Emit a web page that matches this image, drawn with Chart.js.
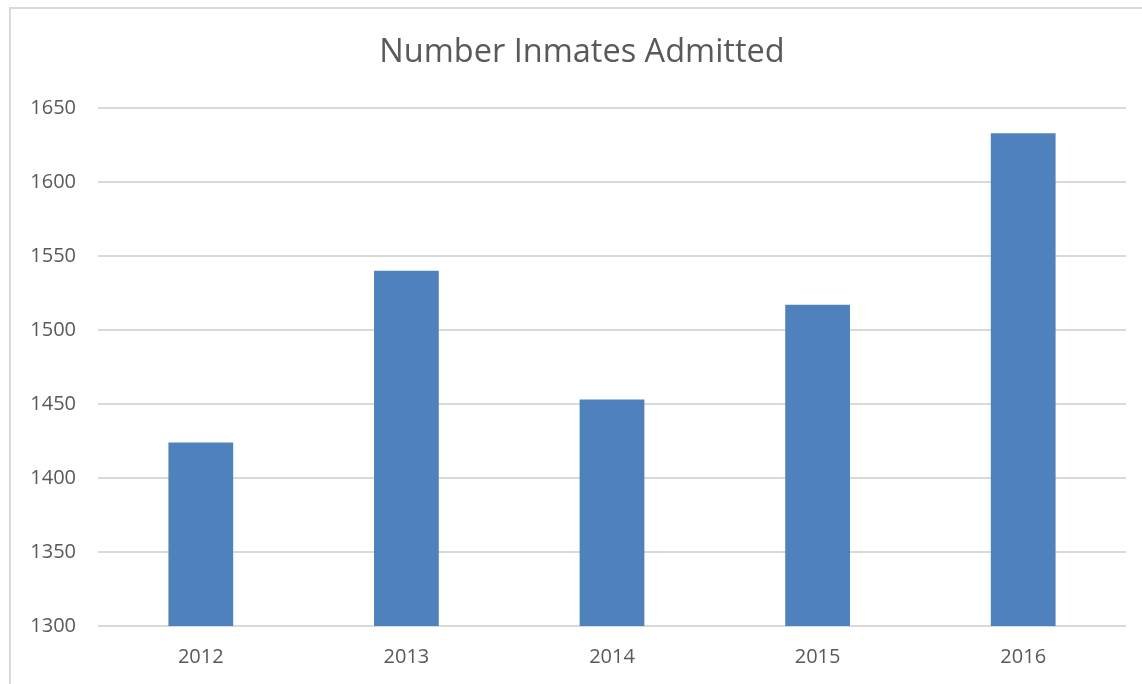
<!DOCTYPE html>
<html lang="en">
<head>
  <meta charset="UTF-8">
  <title>Number Inmates Admitted</title>
  <script src="https://cdn.jsdelivr.net/npm/chart.js"></script>
  <style>
    html, body { margin: 0; padding: 0; background: #fff; }
    #wrap { position: relative; width: 1142px; height: 684px; overflow: hidden; }
    #frame { position: absolute; left: 9px; top: 7px; right: -4px; bottom: -4px; border: 2px solid #d9d9d9; }
    #grafico { position: absolute; left: 0; top: 0; }
  </style>
</head>
<body>
  <div id="wrap">
    <div id="frame"></div>
    <canvas id="grafico" width="1142" height="684"></canvas>
  </div>

  <script>
    const years    = ['2012', '2013', '2014', '2015', '2016'];
    const admitted = [1424, 1540, 1453, 1517, 1633];
    const yMin = 1300, yMax = 1650, yStep = 50;

    const txtColor  = '#595959';
    const gridColor = '#d9d9d9';

    // desloca o titulo para ficar centrado sobre a area de plotagem
    const titleShift = {
      id: 'titleShift',
      afterLayout(chart) {
        if (chart.titleBlock) chart.titleBlock.left += 38;
      }
    };

    const ctx = document.getElementById('grafico').getContext('2d');
    new Chart(ctx, {
      type: 'bar',
      data: {
        labels: years,
        datasets: [{
          label: 'Number Inmates Admitted',
          data: admitted,
          backgroundColor: '#4f81bd',
          borderWidth: 0,
          categoryPercentage: 1,
          barPercentage: 0.315
        }]
      },
      options: {
        responsive: false,
        animation: false,
        layout: { padding: { left: 0, right: 16, top: 0, bottom: 0 } },
        plugins: {
          legend: { display: false },
          tooltip: { enabled: false },
          title: {
            display: true,
            text: 'Number Inmates Admitted',
            color: txtColor,
            font: { family: 'Open Sans', size: 32.5, weight: 'normal' },
            padding: { top: 33, bottom: 36 }
          }
        },
        scales: {
          x: {
            grid: { display: false, drawTicks: false },
            border: { display: false },
            ticks: { color: txtColor, font: { family: 'Open Sans', size: 20 }, padding: 19 },
            afterFit: s => { s.height = 58; }
          },
          y: {
            min: yMin,
            max: yMax,
            ticks: {
              stepSize: yStep,
              color: txtColor,
              font: { family: 'Open Sans', size: 20 },
              padding: 22,
              callback: v => String(v)
            },
            grid: { color: gridColor, lineWidth: 2, drawTicks: false },
            border: { display: false },
            afterFit: s => { s.width = 98; }
          }
        }
      },
      plugins: [titleShift]
    });
  </script>
</body>
</html>
